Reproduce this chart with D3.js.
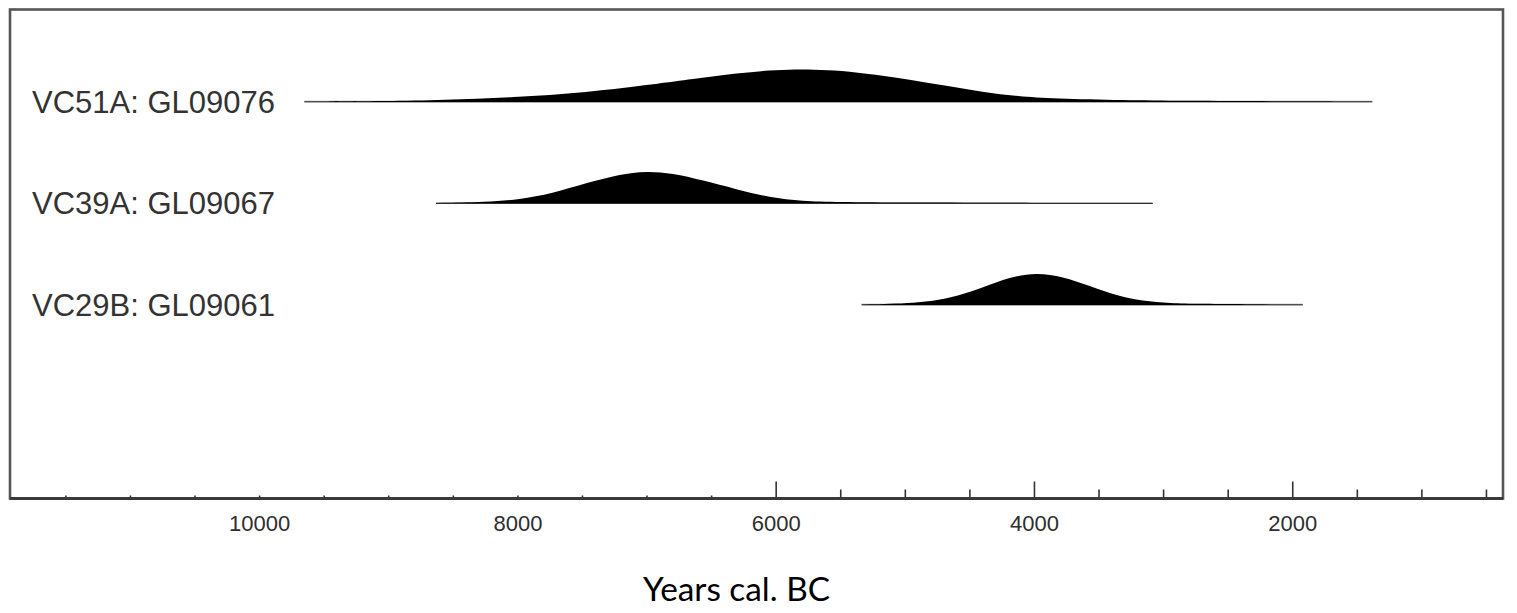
<!DOCTYPE html>
<html>
<head>
<meta charset="utf-8">
<script src="https://cdn.jsdelivr.net/npm/d3@7"></script>
<style>
  html, body { margin: 0; padding: 0; background: #fff; }
  svg { display: block; }
</style>
</head>
<body>
<svg id="chart" width="1517" height="613"></svg>
<script>
// ---- data ----
const samples = ["VC51A: GL09076", "VC39A: GL09067", "VC29B: GL09061"];

const yearsVC51A = [9650, 9000, 8580, 8030, 7470, 6920, 6640, 6370, 6100, 5900, 5700, 5500, 5230, 4950, 4680, 4400, 4120, 3850, 3290, 2880, 2000, 1380];
const densVC51A  = [0, 0.01, 0.05, 0.13, 0.28, 0.55, 0.70, 0.85, 0.96, 1.0, 1.0, 0.97, 0.84, 0.68, 0.49, 0.30, 0.16, 0.09, 0.04, 0.02, 0.005, 0];

const yearsVC39A = [8630, 8240, 7985, 7730, 7466, 7210, 7001, 6800, 6567, 6304, 6048, 5792, 5529, 5000, 4000, 3080];
const densVC39A  = [0, 0.03, 0.11, 0.30, 0.62, 0.90, 1.0, 0.93, 0.71, 0.43, 0.17, 0.06, 0.03, 0.01, 0.003, 0];

const yearsVC29B = [5335, 4909, 4653, 4397, 4188, 3979, 3778, 3568, 3359, 3158, 2948, 2716, 2300, 1918];
const densVC29B  = [0, 0.04, 0.18, 0.53, 0.86, 1.0, 0.87, 0.58, 0.27, 0.11, 0.04, 0.02, 0.005, 0];

const majorTicks = [10000, 8000, 6000, 4000, 2000];
const minorTicks = [11500, 11000, 10500, 10000, 9500, 9000, 8500, 8000, 7500, 7000, 6500, 6000, 5500, 5000, 4500, 4000, 3500, 3000, 2500, 2000, 1500, 1000, 500];
const axisTitle = "Years cal. BC";

// ---- layout ----
const svg = d3.select("#chart");
const frame = { left: 10, top: 9.5, right: 1503, bottom: 498.5 };

const x = d3.scaleLinear().domain([11929, 368]).range([frame.left, frame.right]);
const yRow = d3.scalePoint().domain(samples).range([101.5, 304.5]);
const h = d3.scaleLinear().domain([0, 1]).range([0, 32]);

const series = [
  { name: samples[0], years: yearsVC51A, dens: densVC51A },
  { name: samples[1], years: yearsVC39A, dens: densVC39A },
  { name: samples[2], years: yearsVC29B, dens: densVC29B }
];

// distributions
series.forEach(s => {
  const base = yRow(s.name);
  const pts = s.years.map((yr, i) => ({ yr, d: s.dens[i] }));
  svg.append("line")
    .attr("x1", x(s.years[0])).attr("x2", x(s.years[s.years.length - 1]))
    .attr("y1", base).attr("y2", base)
    .attr("stroke", "#a0a0a0").attr("stroke-width", 1.5);
  const area = d3.area()
    .x(p => x(p.yr))
    .y0(base + 0.8)
    .y1(p => base - h(p.d))
    .curve(d3.curveBasis);
  svg.append("path").datum(pts)
    .attr("d", area)
    .attr("fill", "#000");
  svg.append("text")
    .attr("x", 32).attr("y", base + 11)
    .attr("font-family", "'Liberation Sans', Arial, sans-serif")
    .attr("font-size", 31)
    .attr("fill", "#333")
    .text(s.name);
});

// axis ticks (inside, pointing up)
const axisG = svg.append("g").attr("transform", `translate(0,${frame.bottom})`);
axisG.call(d3.axisBottom(x).tickValues(minorTicks).tickSize(-9).tickFormat(""));
axisG.select(".domain").remove();
axisG.selectAll(".tick line")
  .attr("stroke", "#333")
  .attr("stroke-width", 1.6)
  .attr("y2", d => {
    const isMajor = majorTicks.includes(d);
    if (d > 6000) return -3;
    return isMajor ? -17 : -9;
  });

const labelG = svg.append("g").attr("transform", `translate(0,${frame.bottom})`);
labelG.call(d3.axisBottom(x).tickValues(majorTicks).tickSize(0).tickFormat(d3.format("d")));
labelG.select(".domain").remove();
labelG.selectAll(".tick text")
  .attr("y", 32).attr("dy", 0)
  .attr("font-family", "'Liberation Sans', Arial, sans-serif")
  .attr("font-size", 22)
  .attr("fill", "#2e2e2e");

// frame
svg.append("rect")
  .attr("x", frame.left).attr("y", frame.top)
  .attr("width", frame.right - frame.left).attr("height", frame.bottom - frame.top)
  .attr("fill", "none").attr("stroke", "#555").attr("stroke-width", 2.6);
svg.append("line")
  .attr("x1", frame.left).attr("x2", frame.right)
  .attr("y1", frame.bottom).attr("y2", frame.bottom)
  .attr("stroke", "#3a3a3a").attr("stroke-width", 3);

// axis title
svg.append("text")
  .attr("x", 736.5).attr("y", 601)
  .attr("text-anchor", "middle")
  .attr("font-family", "Lato, 'Open Sans', sans-serif")
  .attr("font-size", 32)
  .attr("fill", "#000")
  .attr("textLength", 187)
  .attr("lengthAdjust", "spacingAndGlyphs")
  .text(axisTitle);
</script>
</body>
</html>
